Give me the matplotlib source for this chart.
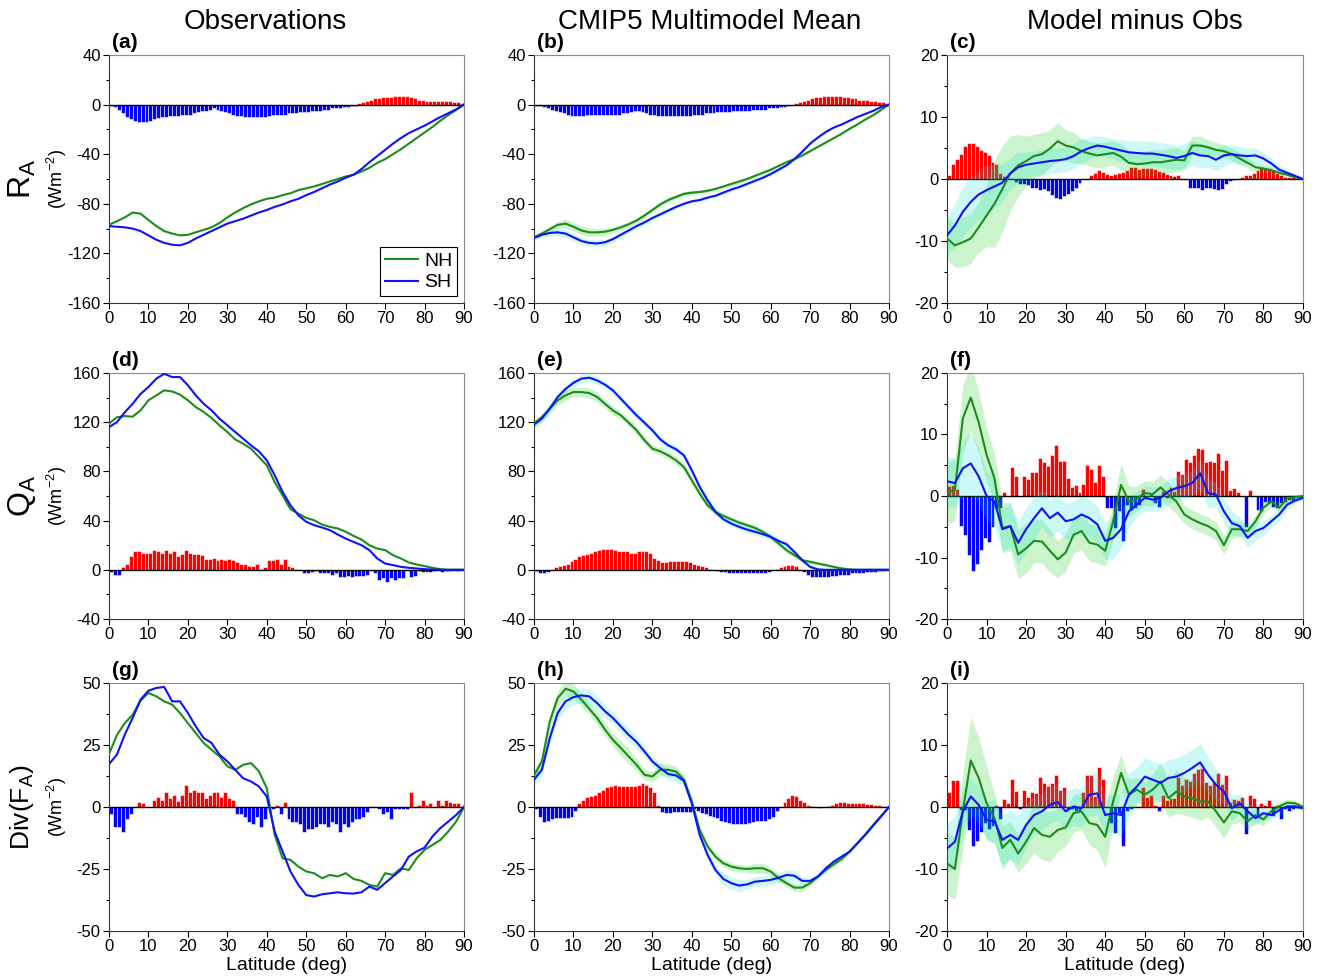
import numpy as np
import matplotlib
matplotlib.use("Agg")
import matplotlib.pyplot as plt
from matplotlib.ticker import MultipleLocator, AutoMinorLocator

plt.rcParams["font.family"] = ["Liberation Sans", "DejaVu Sans"]
plt.rcParams["mathtext.default"] = "regular"
plt.rcParams["axes.unicode_minus"] = False

# --------------------------------------------------
# Latitude grids
# --------------------------------------------------
LAT = np.arange(0, 91, 2)        # hemispheric profiles, every 2 deg
BIN = np.arange(90) + 0.5        # 1-deg bins for the SH minus NH bars

# --------------------------------------------------
# R_A  (W m-2)
# --------------------------------------------------
ra_obs_nh = [-97, -94, -91, -87, -88, -93, -98, -102, -104, -105.5, -105, -103, -101, -99, -95.5, -91,
             -87, -83.5, -80.5, -78, -76, -75, -73, -71.5, -69, -67.5, -66, -64, -62, -60, -58,
             -56.5, -54, -51, -47, -44, -40, -36, -31.5, -27, -22.5, -18, -13, -8.5, -4.3, 0]
ra_obs_sh = [-98, -98.5, -99, -100, -102, -105.5, -109, -111.5, -113, -113.5, -111.5, -108, -105, -102,
             -99, -96, -94, -92, -89.5, -87, -85, -82.5, -80.5, -78, -76, -73, -70.5, -67.5, -64.5,
             -62, -59, -56.5, -52, -46.5, -41.5, -36.5, -31.5, -27, -23, -20, -17, -13.5, -10, -7,
             -3.8, 0]
ra_obs_bar = [-1, -2, -4, -7, -10, -12, -13, -14, -14, -14,
              -13, -12, -11, -10, -10, -9, -9, -9, -8, -8,
              -8, -7, -6, -5, -5, -4, -3, -4, -5, -6,
              -7, -8, -9, -9, -10, -10, -10, -10, -10, -10,
              -9, -8, -8, -8, -8, -7, -7, -7, -6, -6,
              -6, -5, -5, -5, -4, -4, -3, -3, -3, -2,
              -2, -1, -1, 1, 2, 3, 4, 5, 5, 6,
              6, 6, 7, 7, 7, 7, 6, 5, 4, 4,
              3, 3, 3, 3, 3, 3, 3, 2, 2, 1]

ra_mod_nh = [-107, -104, -100.5, -97, -96, -98.5, -101.5, -103, -103, -102.5, -101, -99, -96.5, -93.5,
             -89.5, -85, -80.5, -77, -74.5, -72, -71, -70.5, -69.5, -68, -66, -64, -62, -60, -57.5,
             -55, -52.5, -49.5, -46.5, -44, -41, -37.5, -34, -30.5, -27, -23.5, -19.5, -16, -12,
             -8.5, -4.3, 0]
ra_mod_sh = [-107.5, -105, -103.5, -103, -104, -107, -110, -111.5, -112, -111, -108.5, -105, -101.5,
             -98, -95, -91.5, -88.5, -85.5, -82.5, -80, -78, -77, -75, -73.5, -71, -68.5, -66.5, -64,
             -61.5, -59, -56, -52.5, -49, -44, -38, -31.5, -26.5, -22, -18.5, -16, -13, -10, -7.5,
             -5, -2, 0]
ra_mod_bar = [-1, -1, -2, -3, -4, -5, -6, -7, -8, -9,
              -9, -9, -9, -8, -8, -8, -8, -8, -8, -8,
              -8, -8, -7, -7, -6, -5, -5, -6, -7, -8,
              -8, -9, -9, -9, -9, -9, -9, -9, -9, -9,
              -8, -8, -8, -7, -7, -7, -6, -6, -6, -6,
              -5, -5, -5, -5, -5, -4, -4, -4, -4, -3,
              -3, -3, -2, -2, -1, 0, 1, 2, 3, 4,
              5, 6, 6, 7, 7, 7, 7, 7, 6, 6,
              5, 5, 4, 4, 4, 3, 3, 2, 2, 1]
ra_mod_nh_sd = [1.5, 2, 2.5, 3, 3.5, 3.5, 3.5, 3.5, 3, 3, 2.5, 2.5, 2, 2, 2, 2, 2, 2, 2, 2, 2, 1.5,
                1.5, 1.5, 1.5, 1.5, 1.5, 1.5, 1.5, 1.5, 1.2, 1.2, 1, 1, 1, 1, 1, 1, 0.8, 0.8, 0.8,
                0.6, 0.5, 0.4, 0.3, 0]
ra_mod_sh_sd = [2, 2, 2.5, 2.5, 3, 3, 3, 3, 3, 2.5, 2.5, 2.5, 2, 2, 2, 2, 2, 2, 1.5, 1.5, 1.5, 1.5,
                1.5, 1.5, 1.5, 1.5, 1.5, 1.5, 1.5, 1.5, 1.5, 1.5, 1.2, 1.2, 1.2, 1, 1, 1, 0.8, 0.8,
                0.8, 0.6, 0.5, 0.4, 0.3, 0]

ra_dif_nh = [-9.6, -10.7, -10.2, -9.6, -7.8, -5.9, -4.0, -1.6, 0.9, 2.2, 2.9, 3.7, 4.0, 4.9, 6.1, 5.4,
             5.1, 4.5, 4.1, 3.8, 4.0, 4.2, 3.6, 2.6, 2.4, 2.5, 2.7, 2.7, 2.9, 3.1, 3.0, 5.4, 5.4, 5.1,
             4.7, 4.5, 4.0, 3.3, 2.6, 1.9, 1.7, 1.4, 1.0, 0.7, 0.3, 0]
ra_dif_sh = [-9.1, -7.5, -5.3, -3.7, -2.5, -1.8, -1.2, -0.6, 0.9, 1.9, 2.3, 2.5, 2.7, 2.9, 3.0, 3.2,
             3.7, 4.5, 5.0, 5.4, 5.2, 4.9, 4.6, 4.3, 4.2, 4.1, 4.1, 3.9, 3.7, 3.4, 3.7, 4.2, 3.8, 3.7,
             3.1, 3.8, 4.0, 3.8, 3.7, 3.8, 3.3, 2.5, 1.5, 1.0, 0.5, 0]
ra_dif_bar = [0.6, 2.5, 3.2, 4.0, 5.3, 5.8, 5.8, 5.4, 4.6, 4.3,
              3.8, 2.8, 2.5, 1.0, 0.5, 0.2, 0, -0.5, -0.8, -0.8,
              -1.0, -1.5, -1.5, -1.8, -1.6, -2.0, -2.5, -3.0, -3.2, -2.8,
              -2.4, -2.0, -1.5, -0.7, 0, 0, 0.7, 1.0, 1.4, 1.2,
              0.8, 0.6, 0.8, 1.0, 1.2, 1.4, 1.9, 1.9, 1.6, 1.7,
              1.8, 1.7, 1.6, 1.3, 1.1, 0.8, 0.6, 0.5, 0.6, 0,
              0, -1.5, -1.5, -1.5, -1.8, -1.5, -1.5, -1.6, -1.7, -1.6,
              -0.8, -0.4, -0.2, 0, 0.3, 0.6, 0.7, 1.0, 1.4, 1.7,
              1.8, 1.7, 1.4, 1.0, 0.7, 0.4, 0.3, 0.3, 0.2, 0.2]
ra_dif_nh_sd = [3.5, 3.5, 4, 4, 4, 5, 7, 7, 6, 5, 4, 3.5, 3.5, 3, 3, 2.5, 2.5, 2, 2, 2, 2, 2, 2, 2,
                2, 2, 2, 2, 2, 2, 1.5, 1.5, 1.5, 1.2, 1.2, 1, 1, 1, 0.8, 0.8, 0.6, 0.5, 0.4, 0.3,
                0.2, 0]
ra_dif_sh_sd = [3, 3.5, 4, 4, 4, 4, 3.5, 3, 2.5, 2.5, 2, 2, 2, 2, 2, 2, 2, 2, 1.8, 1.6, 1.6, 1.6,
                1.8, 1.8, 2, 2, 2, 2, 2, 2, 2, 2, 2, 1.8, 1.8, 1.7, 1.5, 1.4, 1.3, 1.2, 1, 0.8, 0.7,
                0.5, 0.3, 0]

# --------------------------------------------------
# Q_A  (W m-2)
# --------------------------------------------------
qa_obs_nh = [118.8, 124, 125, 124.5, 129.6, 137.8, 141.8, 145.9, 145, 142.4, 137.8, 132.3, 128.3,
             123.4, 117.5, 112, 106, 102.5, 98.5, 91.7, 85, 71.4, 60.6, 49.3, 45.7, 42.2, 40.3, 36.8,
             34.9, 33.6, 30.9, 27.6, 24.6, 20, 17.3, 16, 11.9, 9.2, 6, 4.3, 3, 1.6, 0.5, 0, 0, 0]
qa_obs_sh = [116, 120, 128, 135, 143, 148.6, 155.4, 159.4, 156.7, 156.7, 150, 141.8, 135, 129.6,
             122.9, 117.5, 112, 106.6, 101.2, 96.3, 89, 76.9, 63.3, 52.5, 44.4, 39, 36.3, 34.4, 32.2,
             28.7, 25.4, 22.7, 20, 16, 9.2, 5.1, 3.8, 2.4, 1.6, 1.1, 0.5, 0.3, 0, 0, 0, 0]
qa_obs_bar = [-2, -4, -4, 2, 5, 11, 15, 15, 14, 14,
              14, 16, 15, 14, 16, 14, 15, 11, 13, 16,
              14, 13, 13, 12, 9, 9, 10, 8, 9, 8,
              9, 8, 6, 5, 5, 3, 3, 5, 1, 2,
              8, 8, 9, 5, 9, 3, 2, 1, 0, -3,
              -3, -2, -1, -3, -3, -3, -4, -3, -6, -6,
              -5, -6, -5, -5, -5, -4, -1, -3, -8, -7,
              -10, -7, -8, -7, -7, 0, -6, -5, -1, -2,
              -2, -2, -1, 0, -2, -1, -1, 0, -1, 0]

qa_mod_nh = [118.8, 124, 131, 137.8, 141.8, 144.5, 144.5, 143.7, 140.5, 135, 129.6, 125.6, 119.6,
             113.4, 105.3, 98.5, 96.3, 93.1, 89, 83.6, 72.8, 62, 52.5, 47, 43.8, 41.1, 38.4, 36.3,
             34.1, 30.9, 26.8, 21.4, 16, 11.9, 7.8, 6.5, 5.1, 3.8, 2.4, 1.1, 0.3, 0, 0, 0, 0, 0]
qa_mod_sh = [118, 123, 131, 140.5, 147, 152, 155.4, 156.2, 154, 150.5, 145.9, 139.1, 132.3, 125.6,
             119.6, 113.4, 106.1, 101.2, 98, 93.1, 80.9, 67.4, 56.6, 47.1, 41.1, 37.6, 34.9, 32.7,
             30.9, 29, 26.8, 23.5, 20.8, 14.6, 7.8, 2.4, 0.3, 0, 0, 0, 0, 0, 0, 0, 0, 0]
qa_mod_bar = [-1, -3, -3, -2, 0, 2, 3, 4, 5, 7,
              9, 11, 12, 13, 14, 15, 16, 17, 17, 17,
              16, 15, 15, 15, 14, 14, 15, 15, 15, 14,
              10, 8, 6, 6, 7, 7, 7, 7, 7, 6,
              5, 4, 3, 2, 1, 0, -1, -2, -2, -3,
              -3, -3, -3, -3, -3, -3, -3, -3, -3, -2,
              0, 1, 2, 3, 4, 4, 3, 0, -2, -4,
              -6, -6, -6, -6, -6, -5, -5, -4, -4, -4,
              -3, -3, -3, -3, -2, -2, -2, -1, -1, 0]
qa_mod_nh_sd = [3, 3.5, 4, 4, 4, 4, 4, 4, 4, 3.5, 3.5, 3, 3, 3, 3, 3, 3, 3, 3, 3, 3, 3, 2.5, 2.5,
                2.5, 2, 2, 2, 2, 2, 2, 2, 2, 2, 1.5, 1.5, 1.5, 1, 1, 1, 0.8, 0.6, 0.5, 0.4, 0.3, 0]
qa_mod_sh_sd = [3, 3, 3, 3, 3, 3.5, 3.5, 3.5, 3, 3, 3, 3, 3, 3, 3, 3, 3, 3, 3, 3, 3, 3, 3, 3, 2.5,
                2.5, 2.5, 2.5, 2.5, 2.5, 2.5, 2.5, 2.5, 2, 2, 1.5, 1.5, 1, 1, 1, 0.8, 0.6, 0.5, 0.4,
                0.3, 0]

qa_dif_nh = [0.5, 1.0, 12.6, 16.0, 12.0, 6.7, 2.9, -5.2, -4.9, -9.5, -8.5, -7.3, -7.4, -8.9, -10.3,
             -9.2, -6.3, -5.7, -7.6, -7.9, -8.9, -4.1, 1.8, -0.9, -0.4, 0.5, 0.3, 1.4, 0.2, -0.9, -3.0,
             -3.8, -4.4, -4.9, -5.7, -8.0, -5.4, -5.4, -5.7, -4.1, -1.9, -0.9, -1.9, -0.4, -0.2, 0]
qa_dif_sh = [2.4, 2.1, 4.5, 5.3, 3.2, 0, -0.9, -5.4, -4.9, -7.6, -5.4, -3.6, -2.0, -3.6, -2.7, -4.1,
             -3.8, -3.0, -3.6, -4.6, -7.3, -6.8, -5.4, -2.5, -1.4, -0.3, -0.6, -0.3, 0.75, 1.3, 1.6,
             2.1, 3.7, 0.5, 0.2, -2.5, -4.4, -4.9, -6.8, -5.7, -5.2, -4.1, -3.0, -1.4, -0.75, -0.3]
qa_dif_bar = [1.6, 1.8, 1.2, -4.8, -6.4, -9.6, -12.2, -11, -8.7, -6.8,
              -7.4, -5, -2, -2, 0.7, 0, 4.7, 3.3, 0, 3.3,
              2.8, 3.9, 3.9, 6.1, 5.6, 4.9, 6.6, 8.3, 5.7, 5.7,
              2.9, 1.5, 1.8, 0.6, 2.0, 5.0, 4.4, 2.2, 5.0, 3.3,
              -2, -2, -5.2, -2.5, -7.3, -1.4, -2.2, -2, -1.5, 1.2,
              0, 0.3, -1.2, -1.8, 0.8, -0.3, 1.5, 0.8, 4.1, 3.5,
              6, 5.5, 6.6, 7.8, 7.6, 5.6, 5.7, 5.5, 7, 4.2,
              5.8, 1, 1.3, 0.7, 0, -5, 0.9, 0, -2.3, -2.5,
              -1, -1.2, -1.8, -2, -1.2, -1, -0.6, -0.8, -0.4, -0.3]
qa_dif_nh_sd = [5, 5, 5.5, 5.5, 5, 4.5, 4, 4, 4, 4, 4, 3.5, 3.5, 3.5, 3, 3, 3, 3, 3, 3, 2.5, 3, 3.5,
                2.5, 2, 2, 2, 2, 2, 2, 1.5, 1.5, 1.5, 1.5, 1.5, 1.5, 1.5, 1.2, 1.2, 1, 1, 0.8, 0.8,
                0.6, 0.5, 0.3]
qa_dif_sh_sd = [4, 4, 4.5, 5, 4.5, 4, 4, 3.5, 3.5, 3.5, 3.5, 3.5, 3, 3, 3, 3, 3, 3, 3, 3, 3, 3.5, 3,
                2.5, 2, 2, 2, 2, 2, 2, 2, 2, 2.5, 2.5, 2, 2, 2, 1.5, 1.5, 1.5, 1.2, 1, 1, 0.8, 0.5,
                0.3]

# --------------------------------------------------
# Div(F_A)  (W m-2)
# --------------------------------------------------
df_obs_nh = [21.3, 29, 33.8, 37.2, 42.9, 46, 44.6, 42.6, 41.3, 37.9, 33.8, 29.8, 25.8, 23.1, 20.4,
             16.4, 15, 17, 17.7, 14.4, 7.6, -11.2, -20.7, -21.3, -24, -26, -26.7, -28.7, -27.4, -28,
             -26.7, -29, -29.8, -31.4, -32.1, -26.7, -27.4, -24.7, -25.4, -20.7, -17.3, -15.3, -13.3,
             -9.9, -5.9, 0]
df_obs_sh = [17.3, 21.1, 29.2, 35.9, 43.3, 46.9, 48, 48.4, 42.6, 42.6, 37.9, 32.5, 27.8, 25.8, 21.1,
             18.4, 15, 11.6, 10.3, 8.3, 4.2, -9.9, -17.9, -26, -31.4, -35.5, -36.1, -35.2, -34.8,
             -34.4, -34.8, -34.9, -34.4, -32.1, -33.4, -30.7, -28, -25.4, -20, -17.9, -16.4, -11.9,
             -8.5, -5.9, -3.2, 0]
df_obs_bar = [-3, -8, -8, -10, -5, -3, 0, 2, 1.5, 0,
              0, 3, 4, 3, 6, 3.5, 5, 2.5, 5, 9,
              6, 7, 6, 6, 3.5, 5, 6, 6, 4, 6,
              3.5, 3, -3, -3, -4, -6, -7, -4, -8, -5,
              0, -1, 1, -3, 2, -5, -6, -6, -7, -10,
              -9, -9, -8, -7, -7, -8, -6, -7, -10, -7,
              -8, -6, -5, -5, -4, -2, 0.5, 0, -1, -3,
              -2, -5, -1, -1, -1, -1, 6, 0, 1, 3,
              1, 1.5, 0, 3, 1, 3, 2, 1.5, 1.5, 0.5]

df_mod_nh = [12.7, 18.4, 34.5, 43.9, 47.7, 46.6, 43.3, 39.6, 35.9, 31.2, 27.1, 23.8, 20.4, 17, 13,
             12.3, 15, 15, 14.3, 11, 2.2, -9.2, -15.9, -20, -22.7, -24, -24.7, -25, -24.7, -24.7,
             -26, -28.7, -30.7, -32.5, -32.5, -30.7, -28, -25.4, -23.1, -21, -18, -14.6, -11, -7.2,
             -3.6, 0]
df_mod_sh = [11, 15, 27.8, 37.9, 42.6, 44.3, 45, 44.6, 41.9, 38.6, 35.9, 32.5, 29.1, 26.2, 22.4,
             18.4, 15.7, 13.3, 12.7, 10.6, 1.5, -11.2, -19.3, -25.4, -29, -30.7, -31.7, -31.2, -30.1,
             -29.8, -29.4, -28.5, -27.4, -27.7, -29.8, -29.8, -28, -24.7, -22, -20, -18, -14.6,
             -11.2, -7.5, -3.8, 0]
df_mod_bar = [-1, -4, -6, -5.5, -5, -4.5, -4.5, -4.5, -4.5, -4,
              -1.5, 1.5, 3, 4, 4.5, 5, 6, 7, 8, 8.5,
              9, 8.5, 8.5, 8.5, 8.5, 8.5, 9, 9.5, 9, 8,
              6, 1, -2, -2.5, -2.5, -2, -2, -2, -2, -2,
              -1, -1.5, -2.5, -3, -3.5, -4, -4.5, -5.5, -6, -6.5,
              -7, -7, -7, -7, -6.5, -6, -5.5, -5.5, -5.5, -5,
              -4, -1.5, 0, 2, 3.5, 5, 4.5, 3, 2, 1,
              0.5, 0, -0.3, 0, 0.5, 1, 1.5, 2, 2, 1.5,
              1.5, 1.5, 1.5, 1.5, 1.2, 1.2, 1, 1, 0.5, 0.3]
df_mod_nh_sd = [2, 2.5, 3, 3, 3, 3, 2.5, 2.5, 2.5, 2.5, 2.5, 3, 3, 2.5, 2, 2, 2.5, 2.5, 2, 2, 2, 1.5,
                1.5, 1.5, 1.5, 1.5, 1.5, 1.5, 2, 2, 1.5, 1.5, 1.5, 1.5, 1.5, 1, 1, 1, 0.8, 0.8, 0.6,
                0.5, 0.5, 0.4, 0.3, 0]
df_mod_sh_sd = [2, 2.5, 3, 3, 3, 3, 3, 3, 3, 2.5, 2.5, 2.5, 2.5, 2.5, 2, 2, 2, 2.5, 2.5, 2, 2, 2, 2,
                2, 2.5, 2.5, 2.5, 2, 2, 2, 2, 2, 2, 2, 1.5, 1, 1, 1, 0.8, 0.8, 0.6, 0.5, 0.5, 0.4,
                0.3, 0]

df_dif_nh = [-9.1, -10.0, -0.7, 7.5, 4.7, 0.6, -1.8, -6.6, -5.3, -7.5, -5.6, -3.4, -4.5, -4.8, -3.7,
             -3.3, -1.0, -0.7, -2.6, -2.9, -4.8, 0.9, 5.5, 2.0, 2.8, 2.0, 2.8, 4.1, 1.4, 2.5, 1.7,
             1.4, 0.9, 0.9, -0.7, -2.5, -0.7, -1.0, -2.3, -1.3, -2.0, -0.7, 0.1, 0.7, 0.6, 0]
df_dif_sh = [-6.7, -5.6, -0.7, 1.7, 0.35, -2.1, -2.3, -5.3, -4.5, -5.3, -2.9, -1.3, -0.7, 0.35, 0.8,
             -0.7, 0.1, -0.2, 2.0, 2.2, -1.3, -1.0, -1.3, 2.0, 3.3, 4.9, 4.4, 3.9, 4.7, 4.9, 5.5,
             6.3, 7.2, 5.2, 3.6, 2.5, -0.2, 0.6, -0.7, -1.8, -1.0, -1.3, -0.5, 0.1, 0.1, -0.2]
df_dif_bar = [2.4, 4.4, 4.4, -0.5, -0.5, -3.7, -6.3, -5.5, -4, -2.5,
              -3.5, -3, 0.3, -2, 1.3, 0.6, 4.5, 2.6, -0.4, 2.7,
              1.6, 2.4, 2.3, 4.8, 3.8, 3.4, 3.8, 5.2, 2.8, 3.2,
              -0.3, -0.3, -0.6, -0.6, 2.5, 5.2, 5.2, 1.7, 6.5, 4.5,
              0, -2.6, -4.2, -1, -6.3, -0.6, -0.3, 0.2, 0, 3.2,
              1.6, 2, 0.3, -0.6, 2, 1.1, 1.4, 1.5, 4.8, 3.6,
              4.5, 4.2, 5.5, 6.2, 6.3, 4.1, 3.5, 4.1, 5.5, 3.7,
              5.1, 0.8, 1.3, 1.2, 1.6, -4.3, 2, 1.5, -1.5, 0.7,
              0.4, 1.2, -1.5, 0.3, -2, -0.3, -0.6, -0.3, -0.2, -0.2]
df_dif_nh_sd = [5, 5, 6, 7, 6.5, 6, 4, 3.5, 3, 3, 3.5, 4, 4, 4, 3.5, 3, 3, 3, 3.5, 4, 5, 4, 3, 2.5, 2,
                2, 2.5, 3, 3, 3.5, 3, 3, 3, 2.5, 2.5, 2.5, 2, 1.5, 1.5, 1.2, 1, 0.8, 0.7, 0.5, 0.5,
                0.3]
df_dif_sh_sd = [4, 4, 3.5, 3, 3, 3, 3.5, 4, 4, 4, 3.5, 3, 3, 3, 3, 3, 3, 3, 3.5, 3.5, 3, 3, 3.5, 3.5,
                3, 3, 3, 3, 3, 3, 3, 3, 3, 3, 2.5, 2, 2, 1.5, 1.5, 1.2, 1, 0.8, 0.7, 0.5, 0.5, 0.3]

# --------------------------------------------------
# Layout and styling
# --------------------------------------------------
W, H = 1321, 980
COL_X = [(109, 464), (534, 889), (947, 1303)]
ROW_Y = [(55, 303), (373, 619), (683, 931)]

NH_COLOR = "#1c8c1c"
SH_COLOR = "#1010ff"
POS_BAR = "#ff0000"
NEG_BAR = "#0000ff"
NH_BAND = "#00c800"
SH_BAND = "#00e0e0"

COL_TITLES = ["Observations", "CMIP5 Multimodel Mean", "Model minus Obs"]
TITLE_X = [265, 710, 1135]
ROW_LABELS = [r"R$_A$", r"Q$_A$", r"Div(F$_A$)"]
ROW_LABEL_SIZE = [23, 23, 19]

panels = [
    [(ra_obs_nh, ra_obs_sh, ra_obs_bar, None, None),
     (ra_mod_nh, ra_mod_sh, ra_mod_bar, ra_mod_nh_sd, ra_mod_sh_sd),
     (ra_dif_nh, ra_dif_sh, ra_dif_bar, ra_dif_nh_sd, ra_dif_sh_sd)],
    [(qa_obs_nh, qa_obs_sh, qa_obs_bar, None, None),
     (qa_mod_nh, qa_mod_sh, qa_mod_bar, qa_mod_nh_sd, qa_mod_sh_sd),
     (qa_dif_nh, qa_dif_sh, qa_dif_bar, qa_dif_nh_sd, qa_dif_sh_sd)],
    [(df_obs_nh, df_obs_sh, df_obs_bar, None, None),
     (df_mod_nh, df_mod_sh, df_mod_bar, df_mod_nh_sd, df_mod_sh_sd),
     (df_dif_nh, df_dif_sh, df_dif_bar, df_dif_nh_sd, df_dif_sh_sd)],
]

YLIMS = [
    [(-160, 40, 40), (-160, 40, 40), (-20, 20, 10)],
    [(-40, 160, 40), (-40, 160, 40), (-20, 20, 10)],
    [(-50, 50, 25), (-50, 50, 25), (-20, 20, 10)],
]

fig = plt.figure(figsize=(W / 100, H / 100), dpi=100)

letters = "abcdefghi"
for r in range(3):
    for c in range(3):
        x0, x1 = COL_X[c]
        y0, y1 = ROW_Y[r]
        ax = fig.add_axes([x0 / W, 1 - y1 / H, (x1 - x0) / W, (y1 - y0) / H])
        nh, sh, bars, nh_sd, sh_sd = panels[r][c]
        nh = np.asarray(nh, float)
        sh = np.asarray(sh, float)
        bars = np.asarray(bars, float)

        colors = np.where(bars >= 0, POS_BAR, NEG_BAR)
        ax.bar(BIN, bars, width=1.0, color=colors, edgecolor="white",
               linewidth=0.4, zorder=2)
        ax.axhline(0, color="black", lw=1.0, zorder=2.5)

        if nh_sd is not None:
            nh_sd = np.asarray(nh_sd, float)
            sh_sd = np.asarray(sh_sd, float)
            ax.fill_between(LAT, nh - nh_sd, nh + nh_sd, color=NH_BAND,
                            alpha=0.2, lw=0, zorder=3)
            ax.fill_between(LAT, sh - sh_sd, sh + sh_sd, color=SH_BAND,
                            alpha=0.2, lw=0, zorder=3)

        ax.plot(LAT, nh, color=NH_COLOR, lw=1.5, zorder=4, label="NH")
        ax.plot(LAT, sh, color=SH_COLOR, lw=1.5, zorder=4, label="SH")

        lo, hi, step = YLIMS[r][c]
        ax.set_xlim(0, 90)
        ax.set_ylim(lo, hi)
        ax.xaxis.set_major_locator(MultipleLocator(10))
        ax.yaxis.set_major_locator(MultipleLocator(step))
        ax.yaxis.set_minor_locator(AutoMinorLocator(2))
        ax.tick_params(which="both", direction="out", top=False, right=False,
                       labelsize=12, pad=2)
        ax.tick_params(which="major", length=4, width=0.8)
        ax.tick_params(which="minor", length=2.5, width=0.8)
        for side in ("left", "bottom"):
            ax.spines[side].set_color("#333333")
        for side in ("top", "right"):
            ax.spines[side].set_color("#8a8a8a")

        ax.text(0.008, 1.012, f"({letters[r * 3 + c]})", transform=ax.transAxes,
                fontsize=15, fontweight="bold", ha="left", va="bottom")

        if r == 2:
            ax.set_xlabel("Latitude (deg)", fontsize=14, labelpad=2)

        if r == 0 and c == 0:
            leg = ax.legend(loc="lower right", fontsize=14, frameon=True, fancybox=False,
                            edgecolor="black", framealpha=1, handlelength=1.7,
                            handletextpad=0.3, labelspacing=0.2, borderpad=0.25,
                            borderaxespad=0.35)
            leg.get_frame().set_linewidth(0.8)

# Column titles and row labels
for c in range(3):
    fig.text(TITLE_X[c] / W, 1 - 22 / H, COL_TITLES[c], fontsize=20,
             ha="center", va="center")

for r in range(3):
    yc = 1 - (ROW_Y[r][0] + ROW_Y[r][1]) / 2 / H
    fig.text(22 / W, yc, ROW_LABELS[r], fontsize=ROW_LABEL_SIZE[r], rotation=90,
             ha="center", va="center")
    fig.text(57 / W, yc, r"(Wm$^{-2}$)", fontsize=13, rotation=90,
             ha="center", va="center")

fig.savefig("out.png", dpi=100)
